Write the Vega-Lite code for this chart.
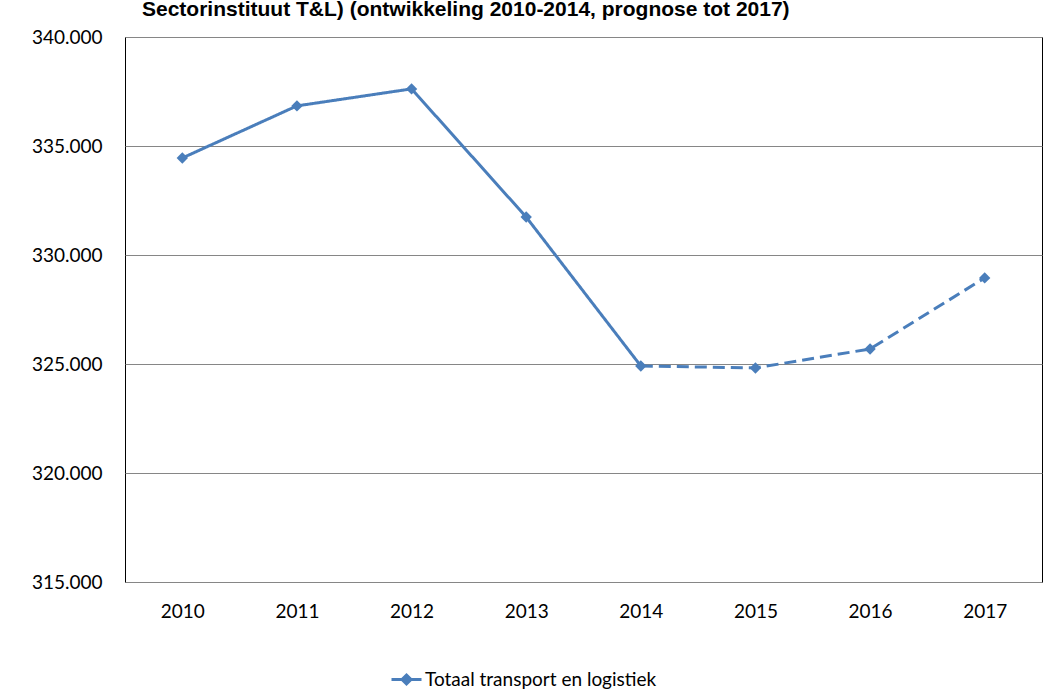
{
  "$schema": "https://vega.github.io/schema/vega-lite/v6.json",
  "autosize": {"type": "none"},
  "width": 917,
  "height": 545,
  "padding": {"left": 125, "top": 37, "right": 12, "bottom": 111},
  "background": "white",
  "title": {
    "text": "Sectorinstituut T&L) (ontwikkeling 2010-2014, prognose tot 2017)",
    "anchor": "start",
    "frame": "group",
    "dx": 17,
    "offset": 0,
    "dy": 9,
    "baseline": "alphabetic",
    "font": "Liberation Sans",
    "fontSize": 21,
    "fontWeight": "bold",
    "color": "#000000"
  },
  "data": {
    "values": [
      {"year": "2010", "value": 334450, "segment": "actual", "series": "Totaal transport en logistiek"},
      {"year": "2011", "value": 336840, "segment": "actual", "series": "Totaal transport en logistiek"},
      {"year": "2012", "value": 337620, "segment": "actual", "series": "Totaal transport en logistiek"},
      {"year": "2013", "value": 331740, "segment": "actual", "series": "Totaal transport en logistiek"},
      {"year": "2014", "value": 324910, "segment": "actual", "series": "Totaal transport en logistiek"},
      {"year": "2014", "value": 324910, "segment": "prognose", "series": "Totaal transport en logistiek"},
      {"year": "2015", "value": 324820, "segment": "prognose", "series": "Totaal transport en logistiek"},
      {"year": "2016", "value": 325690, "segment": "prognose", "series": "Totaal transport en logistiek"},
      {"year": "2017", "value": 328950, "segment": "prognose", "series": "Totaal transport en logistiek"}
    ]
  },
  "encoding": {
    "x": {
      "field": "year",
      "type": "ordinal",
      "scale": {"paddingInner": 0, "paddingOuter": 0},
      "axis": {
        "title": null,
        "labelAngle": 0,
        "ticks": false,
        "domain": false,
        "labelPadding": 20,
        "labelFont": "Lato",
        "labelFontSize": 19,
        "labelColor": "#000000"
      }
    },
    "y": {
      "field": "value",
      "type": "quantitative",
      "scale": {"domain": [315000, 340000], "nice": false, "zero": false},
      "axis": {
        "title": null,
        "values": [315000, 320000, 325000, 330000, 335000, 340000],
        "labelExpr": "replace(format(datum.value, ',.0f'), ',', '.')",
        "ticks": false,
        "domain": false,
        "labelPadding": 23,
        "labelFont": "Lato",
        "labelFontSize": 19,
        "labelColor": "#000000",
        "grid": true,
        "gridColor": "#868686",
        "gridWidth": 1,
        "gridOpacity": 1
      }
    },
    "color": {
      "field": "series",
      "type": "nominal",
      "scale": {"range": ["#4a7ebb"]},
      "legend": {
        "title": null,
        "orient": "none",
        "legendX": 265,
        "legendY": 626,
        "symbolType": "M-1,0H1M0,-0.3L0.3,0L0,0.3L-0.3,0Z",
        "symbolSize": 900,
        "symbolStrokeWidth": 3,
        "symbolFillColor": "#4a7ebb",
        "symbolStrokeColor": "#4a7ebb",
        "labelFont": "Lato",
        "labelFontSize": 19,
        "labelColor": "#000000",
        "labelLimit": 0,
        "labelOffset": 2
      }
    }
  },
  "layer": [
    {
      "mark": {"type": "line", "strokeWidth": 3},
      "encoding": {
        "detail": {"field": "segment"},
        "strokeDash": {
          "field": "segment",
          "type": "nominal",
          "scale": {"domain": ["actual", "prognose"], "range": [[1, 0], [12, 6]]},
          "legend": null
        }
      }
    },
    {
      "transform": [{"filter": "datum.segment == 'actual' || datum.year != '2014'"}],
      "mark": {"type": "point", "shape": "diamond", "filled": true, "size": 130, "opacity": 1}
    }
  ],
  "config": {
    "view": {"stroke": "#000000", "strokeWidth": 1}
  }
}
